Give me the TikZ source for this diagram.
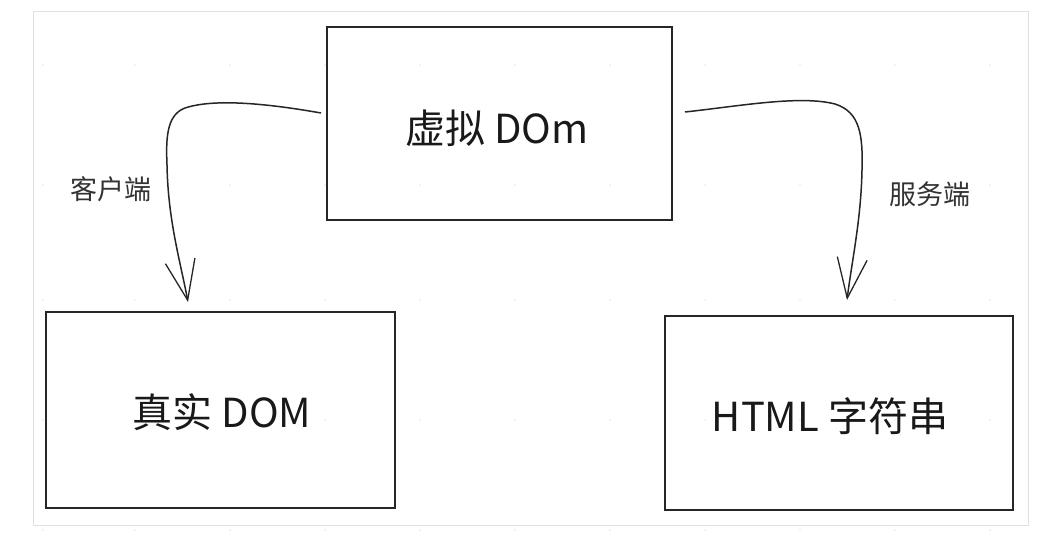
\documentclass[tikz,border=0pt]{standalone}
\usepackage{fontspec}
\newfontfamily\cjk{Noto Sans CJK SC}
\usetikzlibrary{arrows.meta}
\begin{document}
\begin{tikzpicture}[x=1pt,y=-1pt,
  box/.style={draw=black!85,line width=1.5pt},
  boxtext/.style={font=\cjk\fontsize{40}{44}\selectfont,text=black!90},
  lbl/.style={font=\cjk\fontsize{27}{30}\selectfont,text=black!80},
  conn/.style={draw=black!85,line width=1.5pt,-{Straight Barb[length=40pt,width=30pt,line width=1.3pt]}}]
\useasboundingbox (0,0) rectangle (1057,540);
\fill[white] (0,0) rectangle (1057,540);
\draw[black!12,line width=1pt] (33,12) rectangle (1028,525);
% faint grid dots
\foreach \x in {43,135,230,325,420,515,610,705,800,895,990}
  \foreach \y in {65,185,300,420,530}
    \fill[black!20] (\x,\y) circle (0.6pt);
% boxes
\draw[box] (327,27) rectangle (672,220);
\draw[box] (46,312) rectangle (395,508);
\draw[box] (665,316) rectangle (1013,510);
\node[boxtext] (top) at (497,128) {虚拟 DOm};
\node[boxtext] (left) at (222,412) {真实 DOM};
\node[boxtext] (right) at (830,416) {HTML 字符串};
\coordinate (ls) at (321,113);
\coordinate (lt) at (188,302);
\coordinate (rs) at (685,112);
\coordinate (rt) at (847,300);
\draw[conn] (ls) .. controls (270,104) and (215,98) .. (185,108) .. controls (166,115) and (166,140) .. (167,165) .. controls (168,220) and (180,260) .. (lt);
\draw[conn] (rs) .. controls (740,106) and (800,95) .. (835,104) .. controls (860,112) and (863,135) .. (862,170) .. controls (861,220) and (852,260) .. (rt);
\node[lbl] (lc) at (111,189) {客户端};
\node[lbl] (ls2) at (930,194) {服务端};
\end{tikzpicture}
\end{document}
